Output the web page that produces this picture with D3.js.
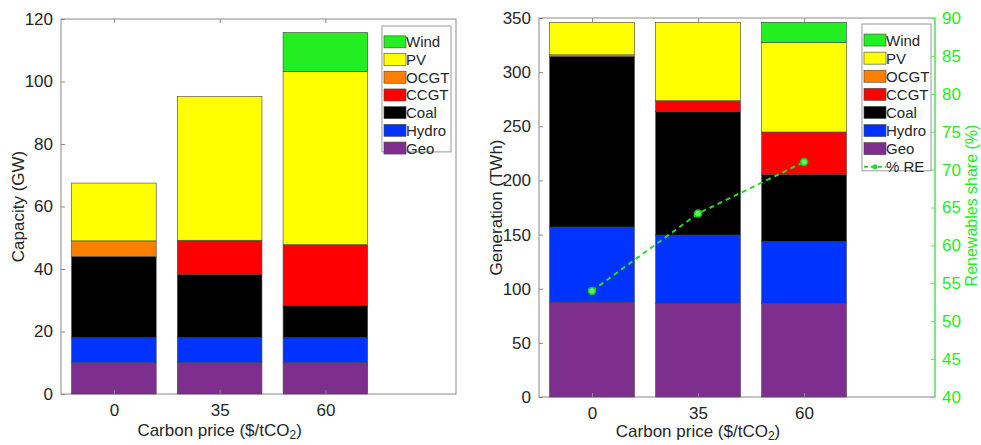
<!DOCTYPE html>
<html>
<head>
<meta charset="utf-8">
<script src="https://cdn.jsdelivr.net/npm/d3@7"></script>
<style>
  body { margin: 0; background: #fff; }
  svg { font-family: "Liberation Sans", Arial, sans-serif; }
  .axis path, .axis line { stroke: #8a8a8a; }
  .axis text { fill: #262626; font-size: 17px; font-family: "Liberation Sans", Arial, sans-serif; }
  .green path, .green line { stroke: #44ff44; }
  .green text { fill: #22ee22; }
</style>
</head>
<body>
<div id="chart"></div>
<script>
// Constants for the layout
const WIDTH = 981;
const HEIGHT = 445;

// data
const prices = ["0", "35", "60"];
const techs = ["Geo", "Hydro", "Coal", "CCGT", "OCGT", "PV", "Wind"];
const techColors = {
  Geo: "#7e2f8e", Hydro: "#0033ff", Coal: "#000000", CCGT: "#ff0000",
  OCGT: "#ff8000", PV: "#ffff00", Wind: "#22ee22"
};
const legendOrder = ["Wind", "PV", "OCGT", "CCGT", "Coal", "Hydro", "Geo"];

// capacity (GW), one array per technology, indexed by carbon price
const capGeo = [10, 10, 10];
const capHydro = [8, 8, 8];
const capCoal = [26, 20.2, 10.4];
const capCCGT = [0, 11, 19.4];
const capOCGT = [5, 0, 0];
const capPV = [18.5, 46, 55.4];
const capWind = [0, 0, 12.5];

// generation (TWh)
const genGeo = [87.7, 86.8, 86.5];
const genHydro = [69.3, 62.8, 56.9];
const genCoal = [157.5, 113.9, 61.9];
const genCCGT = [0, 10.1, 39.4];
const genOCGT = [1.5, 0, 0];
const genPV = [30, 72.4, 82.8];
const genWind = [0, 0, 18.5];

// renewables share (%)
const reShare = [54.0, 64.2, 71.0];

const svg = d3.select("#chart").append("svg")
  .attr("width", WIDTH)
  .attr("height", HEIGHT);

function buildRows(series) {
  return prices.map((p, i) => {
    const row = { price: p, idx: i + 1 };
    techs.forEach((t) => { row[t] = series[t][i]; });
    return row;
  });
}

function drawPanel(opts) {
  const { box, rows, yMax, yTicks, yLabel, legendBox, withLine, titleGap } = opts;

  const x = d3.scaleLinear().domain([0.5, 4.235]).range([box.left, box.right]);
  const y = d3.scaleLinear().domain([0, yMax]).range([box.bottom, box.top]);

  const stack = d3.stack().keys(techs)(rows);
  const barW = (x(2) - x(1)) * 0.8;

  const g = svg.append("g");

  // frame
  g.append("rect")
    .attr("x", box.left).attr("y", box.top)
    .attr("width", box.right - box.left).attr("height", box.bottom - box.top)
    .attr("fill", "none").attr("stroke", "#8a8a8a");

  // bars
  g.selectAll(".layer")
    .data(stack)
    .enter()
    .append("g")
    .attr("fill", (d) => techColors[d.key])
    .selectAll("rect")
    .data((d) => d.filter((s) => s[1] - s[0] > 0))
    .enter()
    .append("rect")
    .attr("x", (d) => x(d.data.idx) - barW / 2)
    .attr("y", (d) => y(d[1]))
    .attr("width", barW)
    .attr("height", (d) => y(d[0]) - y(d[1]))
    .attr("stroke", "#444")
    .attr("stroke-width", 0.6);

  // axes
  const xAxis = d3.axisBottom(x).tickValues([1, 2, 3])
    .tickFormat((d) => prices[d - 1]).tickSize(-4).tickPadding(10);
  g.append("g").attr("class", "axis")
    .attr("transform", `translate(0,${box.bottom})`)
    .call(xAxis)
    .call((a) => a.select(".domain").remove());

  g.append("g").attr("class", "axis")
    .attr("transform", `translate(0,${box.top})`)
    .call(d3.axisTop(x).tickValues([1, 2, 3]).tickFormat("").tickSize(-4))
    .call((a) => a.select(".domain").remove());

  g.append("g").attr("class", "axis")
    .attr("transform", `translate(${box.left},0)`)
    .call(d3.axisLeft(y).tickValues(yTicks).tickSize(-4).tickPadding(8))
    .call((a) => a.select(".domain").remove());

  // axis titles
  const xt = g.append("text")
    .attr("x", x(2)).attr("y", box.bottom + titleGap)
    .attr("text-anchor", "middle")
    .attr("font-size", 17).attr("fill", "#262626")
    .text("Carbon price ($/tCO");
  xt.append("tspan").attr("font-size", 12).attr("dy", 3).text("2");
  xt.append("tspan").attr("dy", -3).text(")");

  g.append("text")
    .attr("transform", `translate(${box.left - 37},${(box.top + box.bottom) / 2}) rotate(-90)`)
    .attr("text-anchor", "middle")
    .attr("font-size", 17).attr("fill", "#262626")
    .text(yLabel);

  let yR;
  if (withLine) {
    yR = d3.scaleLinear().domain([40, 90]).range([box.bottom, box.top]);
    g.append("g").attr("class", "axis green")
      .attr("transform", `translate(${box.right},0)`)
      .call(d3.axisRight(yR).ticks(10).tickSize(-4).tickPadding(7))
      .call((a) => a.select(".domain").attr("d", `M0,${box.top}V${box.bottom}`));

    g.append("text")
      .attr("transform", `translate(${box.right + 41.5},${(box.top + box.bottom) / 2 - 2}) rotate(-90)`)
      .attr("text-anchor", "middle")
      .attr("font-size", 16).attr("fill", "#22ee22")
      .text("Renewables share (%)");

    const line = d3.line().x((d, i) => x(i + 1)).y((d) => yR(d));
    g.append("path")
      .datum(reShare)
      .attr("d", line)
      .attr("fill", "none")
      .attr("stroke", "#22dd22")
      .attr("stroke-width", 2)
      .attr("stroke-dasharray", "5,4");
    g.selectAll(".re")
      .data(reShare)
      .enter()
      .append("circle")
      .attr("cx", (d, i) => x(i + 1))
      .attr("cy", (d) => yR(d))
      .attr("r", 3.5)
      .attr("fill", "#66ee66")
      .attr("stroke", "#11cc11")
      .attr("stroke-width", 1.5);
  }

  // legend
  const lg = g.append("g");
  const items = withLine ? legendOrder.concat(["% RE"]) : legendOrder;
  const rowH = withLine ? 18.1 : 17.7;
  lg.append("rect")
    .attr("x", legendBox.x).attr("y", legendBox.y)
    .attr("width", 69).attr("height", items.length * rowH + 2)
    .attr("fill", "#fff").attr("stroke", "#9a9a9a");
  items.forEach((name, i) => {
    const cy = legendBox.y + 8 + rowH * 0.5 + i * rowH - 1;
    if (name === "% RE") {
      lg.append("line")
        .attr("x1", legendBox.x + 2).attr("x2", legendBox.x + 24)
        .attr("y1", cy).attr("y2", cy)
        .attr("stroke", "#22dd22").attr("stroke-width", 2)
        .attr("stroke-dasharray", "4,3");
      lg.append("circle")
        .attr("cx", legendBox.x + 13).attr("cy", cy).attr("r", 2.5)
        .attr("fill", "#22dd22");
    } else {
      lg.append("rect")
        .attr("x", legendBox.x + 2).attr("y", cy - 6)
        .attr("width", 22).attr("height", 12)
        .attr("fill", techColors[name])
        .attr("stroke", "#444").attr("stroke-width", 0.6);
    }
    lg.append("text")
      .attr("x", legendBox.x + 24).attr("y", cy + 5.5)
      .attr("font-size", 15).attr("fill", "#262626")
      .text(name);
  });
}

drawPanel({
  box: { left: 61, right: 456, top: 19, bottom: 394 },
  rows: buildRows({ Geo: capGeo, Hydro: capHydro, Coal: capCoal, CCGT: capCCGT, OCGT: capOCGT, PV: capPV, Wind: capWind }),
  yMax: 120,
  yTicks: d3.range(0, 121, 20),
  yLabel: "Capacity (GW)",
  legendBox: { x: 382, y: 26 },
  withLine: false,
  titleGap: 42
});

drawPanel({
  box: { left: 539, right: 935, top: 18, bottom: 397 },
  rows: buildRows({ Geo: genGeo, Hydro: genHydro, Coal: genCoal, CCGT: genCCGT, OCGT: genOCGT, PV: genPV, Wind: genWind }),
  yMax: 350,
  yTicks: d3.range(0, 351, 50),
  yLabel: "Generation (TWh)",
  legendBox: { x: 862, y: 24 },
  withLine: true,
  titleGap: 40
});
</script>
</body>
</html>
